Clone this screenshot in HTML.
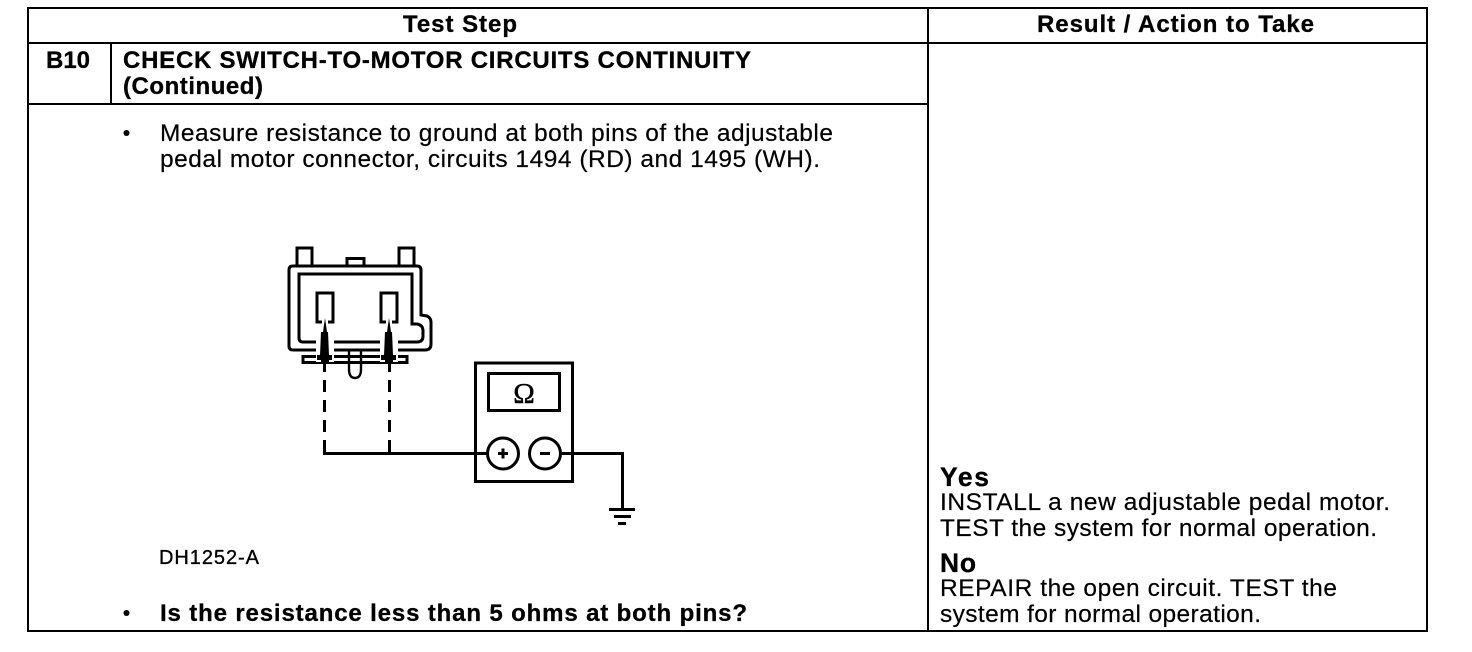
<!DOCTYPE html>
<html><head><meta charset="utf-8"><style>
html,body{margin:0;padding:0;background:#fff;width:1472px;height:652px;overflow:hidden}
svg{display:block}
text{font-family:"Liberation Sans",Arial,sans-serif;fill:#000;font-size:24.5px;stroke:#000;stroke-width:.2px}
.b{font-weight:bold;font-size:24px;stroke-width:.3px}
.big{font-size:26.5px}
</style></head><body>
<svg width="1472" height="652" viewBox="0 0 1472 652" xmlns="http://www.w3.org/2000/svg">
<g fill="none" stroke="#000" stroke-width="2" shape-rendering="crispEdges">
<rect x="28" y="8" width="1399" height="623"/>
<path d="M27 43H1428M928 7V632M27 104H928M111 43V104"/>
</g>

<text class="b" x="403" y="32" textLength="114">Test Step</text>
<text class="b" x="1037" y="32" textLength="277">Result / Action to Take</text>
<text class="b" x="46" y="68" textLength="44">B10</text>
<text class="b" x="123" y="68" textLength="628">CHECK SWITCH-TO-MOTOR CIRCUITS CONTINUITY</text>
<text class="b" x="123" y="94" textLength="140">(Continued)</text>
<circle cx="126.500" cy="133" r="3" fill="#000"/>
<text x="160" y="141" textLength="673">Measure resistance to ground at both pins of the adjustable</text>
<text x="160" y="167" textLength="660">pedal motor connector, circuits 1494 (RD) and 1495 (WH).</text>
<text x="159" y="564" textLength="100" style="font-size:20px;stroke-width:.35px">DH1252-A</text>
<circle cx="126.500" cy="613" r="3" fill="#000"/>
<text class="b" x="160" y="621" textLength="587">Is the resistance less than 5 ohms at both pins?</text>

<text class="b big" x="940" y="486" textLength="49">Yes</text>
<text x="940" y="510" textLength="450">INSTALL a new adjustable pedal motor.</text>
<text x="940" y="536" textLength="437">TEST the system for normal operation.</text>
<text class="b big" x="940" y="572" textLength="36">No</text>
<text x="940" y="596" textLength="397">REPAIR the open circuit. TEST the</text>
<text x="940" y="622" textLength="321">system for normal operation.</text>

<g fill="none" stroke="#000" stroke-width="3">
<!-- tabs -->
<path d="M297 266V248H312V266M399 266V248H414V266M347 266V258.500H364V266"/>
<!-- outer shell -->
<path d="M293 266H417Q421 266 421 270V315L427 316Q431 318 431 322V344Q431 350 425 350H293Q289 350 289 346V270Q289 266 293 266Z"/>
<!-- inner shell -->
<path d="M299 274H412V324H417Q423 325 423 331V336Q423 342 417 342H303Q299 342 299 338Z"/>
<!-- pin slots -->
<path d="M322 322H317V293H333V322H328M386 322H381V293H397V322H392"/>
<!-- flange -->
<path d="M303 356.500V362.500H407V356.500Z"/>
<!-- tab under -->
<path d="M349 351V369Q349 378 355 378Q361 378 361 369V351" stroke-width="2.400"/>
</g>
<!-- probes -->
<rect x="316" y="337" width="18" height="25" fill="#fff"/>
<rect x="380" y="337" width="18" height="25" fill="#fff"/>
<path d="M325 318L323 332H321L320 355H317V360H321V363H329V360H332V355H329L328 332H327Z" fill="#000"/>
<path d="M389 318L387 332H385L384 355H381V360H385V363H393V360H396V355H393L392 332H391Z" fill="#000"/>

<!-- dashes -->
<g fill="none" stroke="#000" stroke-width="3" stroke-dasharray="12 8">
<path d="M324.500 360V452"/>
<path d="M389.500 360V452"/>
</g>
<!-- wiring -->
<g fill="none" stroke="#000" stroke-width="3">
<path d="M324.500 440V453.500H487M389.500 440V453.500"/>
<path d="M562 453.500H622.500V509"/>
<path d="M609 509.500H635"/>
<path d="M614 516.500H631"/>
<path d="M618 523.500H626"/>
<!-- meter -->
<rect x="475.500" y="363" width="97" height="118.500"/>
<rect x="488.500" y="373.500" width="71" height="37"/>
<circle cx="503" cy="453.500" r="15.500" fill="#fff"/>
<circle cx="545" cy="453.500" r="15.500" fill="#fff"/>
<path d="M498 453.500H508M503 448.500V458.500M540 453.500H550"/>
</g>
<text x="524" y="403" text-anchor="middle" style='font-family:"Liberation Serif",serif;font-size:29px;stroke-width:.4px'>Ω</text>
</svg>
</body></html>
